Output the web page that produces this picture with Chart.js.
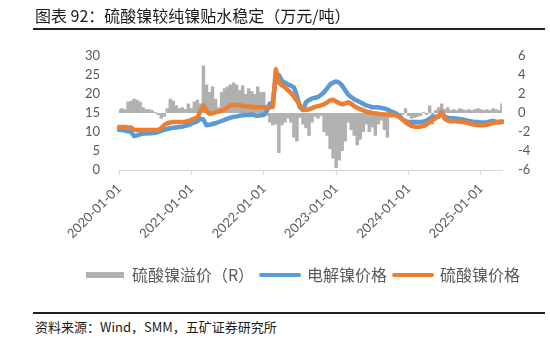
<!DOCTYPE html>
<html><head><meta charset="utf-8">
<script src="https://cdn.jsdelivr.net/npm/chart.js@4/dist/chart.umd.min.js"></script>
<style>
html,body{margin:0;padding:0;background:#fff;}
body{width:550px;height:339px;position:relative;overflow:hidden;font-family:"Noto Sans CJK SC",sans-serif;}
#title{position:absolute;left:35px;top:4px;font-size:16px;line-height:22px;color:#1a1a1a;white-space:nowrap;}
.rule{position:absolute;left:33px;width:512px;height:2px;background:#222;}
#src{position:absolute;left:35px;top:318px;font-size:13px;line-height:18px;color:#1a1a1a;white-space:nowrap;}
#c{position:absolute;left:0;top:0;}
</style></head><body>
<canvas id="c" width="550" height="300"></canvas>
<div id="title">图表 92：硫酸镍较纯镍贴水稳定（万元/吨）</div>
<div class="rule" style="top:28px"></div>
<div class="rule" style="top:312px"></div>
<div id="src">资料来源：Wind，SMM，五矿证券研究所</div>
<script>
const dates = [
"2020-01-01","2020-01-16","2020-02-01","2020-02-16","2020-03-01","2020-03-16","2020-04-01","2020-04-16","2020-05-01","2020-05-16","2020-06-01","2020-06-16",
"2020-07-01","2020-07-16","2020-08-01","2020-08-16","2020-09-01","2020-09-16","2020-10-01","2020-10-16","2020-11-01","2020-11-16","2020-12-01","2020-12-16",
"2021-01-01","2021-01-16","2021-02-01","2021-02-16","2021-03-01","2021-03-16","2021-04-01","2021-04-16","2021-05-01","2021-05-16","2021-06-01","2021-06-16",
"2021-07-01","2021-07-16","2021-08-01","2021-08-16","2021-09-01","2021-09-16","2021-10-01","2021-10-16","2021-11-01","2021-11-16","2021-12-01","2021-12-16",
"2022-01-01","2022-01-16","2022-02-01","2022-02-16","2022-03-01","2022-03-16","2022-04-01","2022-04-16","2022-05-01","2022-05-16","2022-06-01","2022-06-16",
"2022-07-01","2022-07-16","2022-08-01","2022-08-16","2022-09-01","2022-09-16","2022-10-01","2022-10-16","2022-11-01","2022-11-16","2022-12-01","2022-12-16",
"2023-01-01","2023-01-16","2023-02-01","2023-02-16","2023-03-01","2023-03-16","2023-04-01","2023-04-16","2023-05-01","2023-05-16","2023-06-01","2023-06-16",
"2023-07-01","2023-07-16","2023-08-01","2023-08-16","2023-09-01","2023-09-16","2023-10-01","2023-10-16","2023-11-01","2023-11-16","2023-12-01","2023-12-16",
"2024-01-01","2024-01-16","2024-02-01","2024-02-16","2024-03-01","2024-03-16","2024-04-01","2024-04-16","2024-05-01","2024-05-16","2024-06-01","2024-06-16",
"2024-07-01","2024-07-16","2024-08-01","2024-08-16","2024-09-01","2024-09-16","2024-10-01","2024-10-16","2024-11-01","2024-11-16","2024-12-01","2024-12-16",
"2025-01-01","2025-01-16","2025-02-01","2025-02-16","2025-03-01","2025-03-16","2025-04-01","2025-04-16"
];
const yearTicks = ["2020-01-01","2021-01-01","2022-01-01","2023-01-01","2024-01-01","2025-01-01"];
const leftTickLabels = [0,5,10,15,20,25,30];
const rightTickLabels = [-6,-4,-2,0,2,4,6];
const seriesNames = ["硫酸镍溢价（R）","电解镍价格","硫酸镍价格"];

// 硫酸镍溢价（右轴，万元/吨）
const premium = [
0.4,0.5, 0.4,1.2, 1.3,1.5, 1.4,1.2, 0.6,0.4, 0.4,0.3, 0.1,-0.2, -0.6,-0.4, 0.5,1.5, 1.3,0.8, 0.5,0.6, 0.4,1.0,
0.5,1.2, 1.4,1.0, 5.0,3.0, 2.2,2.8, 1.5,0.6, 2.2,2.6, 2.8,3.0, 3.2,3.0, 2.4,2.9, 2.0,2.6, 2.3,2.0, 2.8,2.2,
2.2,-0.3, -1.0,-1.3, -1.2,-4.2, -1.3,-1.0, -0.6,-1.0, -2.6,-3.0, -0.5,-1.2, -1.6,-2.4, -1.0,-0.4, -0.6,-0.3, -2.0,-2.4, -3.8,-4.8,
-5.8,-5.0, -4.0,-3.0, -1.0,-1.8, -2.4,-3.4, -2.8,-2.0, -1.2,-2.0, -1.5,-2.4, -1.2,-0.8, -1.8,-2.6, -0.5,-0.2, -0.3,-0.4, -0.2,0.5,
-0.3,-0.6, -0.5,-0.4, -0.3,0.1, -0.2,0.8, -1.2,0.3, 0.6,1.0, 0.4,0.6, 0.3,0.4, 0.3,0.5, 0.4,0.3, 0.4,0.3, 0.4,0.5,
0.4,0.3, 0.4,0.3, 0.5,0.4, 0.3,1.0
];
// 电解镍价格（左轴，万元/吨）
const electrolytic = [
10.6,10.5, 10.4,10.2, 10.0,8.9, 9.1,9.4, 9.6,9.6, 9.7,9.7, 9.8,10.0, 10.3,10.6, 10.8,11.0, 11.1,11.2, 11.3,11.4, 11.6,11.8,
12.2,12.5, 12.8,13.5, 13.3,11.8, 11.9,12.1, 12.3,12.6, 12.9,13.2, 13.5,13.8, 14.0,14.1, 14.3,14.4, 14.5,14.5, 14.6,14.4, 14.3,14.4,
14.5,15.5, 17.5,17.6, 24.5,25.0, 23.5,23.0, 22.5,22.2, 21.8,19.5, 16.5,15.8, 17.8,18.4, 18.8,19.0, 19.2,19.8, 20.5,21.5, 22.5,23.0,
23.3,23.0, 22.2,21.0, 19.8,19.2, 18.6,18.2, 17.8,17.4, 17.0,16.8, 16.5,16.5, 16.5,16.3, 16.2,15.9, 15.5,15.2, 14.8,14.2, 13.3,12.9,
12.6,12.6, 12.6,12.6, 12.6,12.8, 13.0,13.5, 14.0,14.0, 14.0,15.2, 14.0,13.8, 13.6,13.6, 13.5,13.4, 13.3,13.1, 12.9,12.8, 12.6,12.6,
12.5,12.5, 12.6,12.8, 12.9,12.7, 12.5,12.8
];
// 硫酸镍价格（左轴，万元/吨）
const sulfate = [
11.3,11.3, 11.3,11.2, 11.2,10.6, 10.5,10.5, 10.5,10.5, 10.5,10.5, 10.5,10.6, 11.0,11.8, 12.3,12.5, 12.6,12.6, 12.6,12.6, 12.7,12.9,
13.2,13.5, 13.8,15.5, 17.0,15.5, 14.8,14.9, 15.2,15.4, 15.6,16.0, 16.5,17.0, 17.1,17.1, 17.0,16.9, 16.8,16.7, 16.6,16.6, 16.5,16.5,
16.5,16.5, 16.5,16.6, 26.5,23.0, 22.3,21.8, 21.0,20.3, 19.3,18.2, 17.0,16.0, 15.8,16.0, 16.3,16.6, 16.8,17.0, 17.3,17.8, 18.3,18.5,
18.0,17.6, 17.3,17.5, 17.8,17.4, 16.8,16.4, 16.0,15.7, 15.4,15.2, 15.0,14.9, 14.8,14.7, 14.6,14.6, 14.6,14.5, 14.3,13.9, 13.3,12.6,
12.0,11.6, 11.4,11.4, 11.4,11.6, 12.0,12.6, 13.3,13.6, 14.2,15.2, 13.5,13.0, 12.8,12.8, 12.8,12.7, 12.6,12.5, 12.3,12.1, 11.9,11.8,
11.8,11.8, 11.9,12.1, 12.4,12.5, 12.7,12.6
];

const GRAY = '#B0B0B0', BLUE = '#5B9BD5', ORANGE = '#ED7D31', TXT = '#595959';
const tickFont = {family: 'Lato, "Noto Sans", sans-serif', size: 13};

new Chart(document.getElementById('c'), {
  type: 'bar',
  data: {
    labels: dates,
    datasets: [
      {type:'bar', label: seriesNames[0], data: premium, yAxisID:'y1', backgroundColor: GRAY,
       borderWidth:0, barPercentage:1.15, categoryPercentage:1.0, inflateAmount:0, order:3},
      {type:'line', label: seriesNames[1], data: electrolytic, yAxisID:'y', borderColor: BLUE, backgroundColor: BLUE,
       borderWidth:4.5, pointRadius:0, tension:0, borderJoinStyle:'round', borderCapStyle:'round', order:2},
      {type:'line', label: seriesNames[2], data: sulfate, yAxisID:'y', borderColor: ORANGE, backgroundColor: ORANGE,
       borderWidth:4.5, pointRadius:0, tension:0, borderJoinStyle:'round', borderCapStyle:'round', order:1}
    ]
  },
  options: {
    responsive:false, animation:false, devicePixelRatio:1,
    layout:{padding:{left:56, right:0, top:56, bottom:7}},
    plugins:{
      tooltip:{enabled:false},
      legend:{
        position:'bottom',
        labels:{
          usePointStyle:true, pointStyleWidth:38, boxHeight:6, padding:7,
          color: TXT, font:{family:'"Noto Sans CJK SC", sans-serif', size:16},
          generateLabels: (chart) => [
            {text: seriesNames[0], fillStyle: GRAY, strokeStyle: GRAY, lineWidth:0, pointStyle:'rect', datasetIndex:0, hidden:false, fontColor: TXT},
            {text: seriesNames[1], fillStyle: BLUE, strokeStyle: BLUE, lineWidth:4, lineCap:'round', pointStyle:'line', datasetIndex:1, hidden:false, fontColor: TXT},
            {text: seriesNames[2], fillStyle: ORANGE, strokeStyle: ORANGE, lineWidth:4, lineCap:'round', pointStyle:'line', datasetIndex:2, hidden:false, fontColor: TXT}
          ]
        }
      }
    },
    scales:{
      x:{
        offset:false,
        afterFit:(s)=>{ s.height = 90; },
        border:{display:true, color:'#D9D9D9', width:1},
        grid:{offset:false, drawOnChartArea:false, drawTicks:true, tickLength:5,
              color:(ctx)=> (ctx.tick && yearTicks.includes(dates[ctx.index])) ? '#D9D9D9' : 'rgba(0,0,0,0)'},
        ticks:{autoSkip:false, maxRotation:45, minRotation:45, padding:6, color:TXT, font:tickFont,
               callback:function(v,i){ const l = dates[i]; return yearTicks.includes(l) ? l : ''; }}
      },
      y:{
        position:'left', min: leftTickLabels[0], max: leftTickLabels[leftTickLabels.length-1],
        afterFit:(s)=>{ s.width = 63; },
        border:{display:false}, grid:{display:false, drawTicks:false},
        ticks:{stepSize: leftTickLabels[1]-leftTickLabels[0], padding:19, color:TXT, font:tickFont}
      },
      y1:{
        position:'right', min: rightTickLabels[0], max: rightTickLabels[rightTickLabels.length-1],
        afterFit:(s)=>{ s.width = 48; },
        border:{display:false}, grid:{display:false, drawTicks:false},
        ticks:{stepSize: rightTickLabels[1]-rightTickLabels[0], padding:16, color:TXT, font:tickFont}
      }
    }
  }
});
</script>
</body></html>
